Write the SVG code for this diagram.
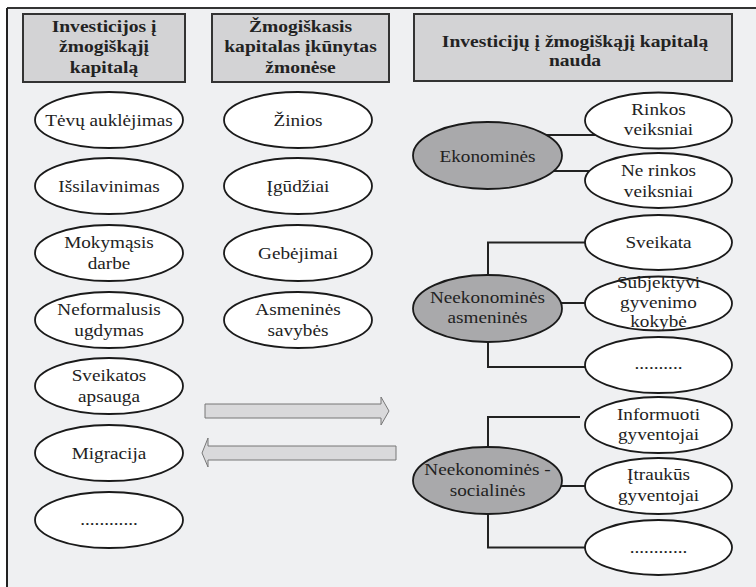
<svg xmlns="http://www.w3.org/2000/svg" width="756" height="587" viewBox="0 0 756 587">
<style>
.hb{fill:#d3d3d5;stroke:#333;stroke-width:2}
.ht{font-family:'Liberation Serif','DejaVu Serif',serif;font-weight:bold;font-size:17px;fill:#222;text-anchor:middle}
.e{fill:#fff;stroke:#1a1a1a;stroke-width:1.8}
.g{fill:#a9a9ab;stroke:#1a1a1a;stroke-width:1.8}
.t{font-family:'Liberation Serif','DejaVu Serif',serif;font-size:16.7px;fill:#222;text-anchor:middle}
.c{fill:none;stroke:#222;stroke-width:2}
.a{fill:#d9d9db;stroke:#777;stroke-width:1}
</style>
<rect x="0" y="0" width="756" height="587" fill="#fff"/>
<rect x="7" y="8" width="749" height="579" fill="#eff0f2"/>
<line x1="7" y1="8" x2="756" y2="8" stroke="#333" stroke-width="2"/>
<line x1="7" y1="8" x2="7" y2="587" stroke="#222" stroke-width="2"/>

<g id="h1"><rect class="hb" x="23" y="14" width="162" height="68"/>
<text class="ht" transform="translate(104 0) scale(1.15 1)"><tspan x="0" y="32">Investicijos į</tspan><tspan x="0" y="52.5">žmogiškąjį</tspan><tspan x="0" y="73">kapitalą</tspan></text></g>
<g id="h2"><rect class="hb" x="212" y="14" width="177" height="68"/>
<text class="ht" transform="translate(300.5 0) scale(1.15 1)"><tspan x="0" y="32">Žmogiškasis</tspan><tspan x="0" y="52.5">kapitalas įkūnytas</tspan><tspan x="0" y="73">žmonėse</tspan></text></g>
<g id="h3"><rect class="hb" x="414" y="14" width="318" height="67"/>
<text class="ht" transform="translate(575 0) scale(1.15 1)"><tspan x="0" y="47">Investicijų į žmogiškąjį kapitalą</tspan><tspan x="0" y="66">nauda</tspan></text></g>

<g id="connectors">
<line class="c" x1="546" y1="135" x2="597" y2="135"/>
<line class="c" x1="553" y1="171" x2="590" y2="171"/>
<polyline class="c" points="488,276 488,242.5 585,242.5"/>
<line class="c" x1="561" y1="303" x2="586" y2="303"/>
<polyline class="c" points="488,341 488,367 585,367"/>
<polyline class="c" points="488,448 488,417 580,417"/>
<line class="c" x1="561" y1="486" x2="586" y2="486"/>
<polyline class="c" points="488,513 488,547.5 585,547.5"/>
</g>

<g id="l1"><ellipse class="e" cx="109" cy="120" rx="74" ry="28"/><text class="t" transform="translate(109 0) scale(1.15 1)" y="126">Tėvų auklėjimas</text></g>
<g id="l2"><ellipse class="e" cx="109" cy="186" rx="74" ry="28"/><text class="t" transform="translate(109 0) scale(1.15 1)" y="192">Išsilavinimas</text></g>
<g id="l3"><ellipse class="e" cx="109" cy="253" rx="74" ry="28"/><text class="t" transform="translate(109 0) scale(1.15 1)"><tspan x="0" y="248">Mokymąsis</tspan><tspan x="0" y="269">darbe</tspan></text></g>
<g id="l4"><ellipse class="e" cx="109" cy="320" rx="74" ry="28"/><text class="t" transform="translate(109 0) scale(1.15 1)"><tspan x="0" y="315">Neformalusis</tspan><tspan x="0" y="336">ugdymas</tspan></text></g>
<g id="l5"><ellipse class="e" cx="109" cy="386" rx="74" ry="28"/><text class="t" transform="translate(109 0) scale(1.15 1)"><tspan x="0" y="381">Sveikatos</tspan><tspan x="0" y="402">apsauga</tspan></text></g>
<g id="l6"><ellipse class="e" cx="109" cy="453" rx="74" ry="28"/><text class="t" transform="translate(109 0) scale(1.15 1)" y="459">Migracija</text></g>
<g id="l7"><ellipse class="e" cx="109" cy="520" rx="74" ry="28"/><text class="t" transform="translate(109 0) scale(1.15 1)" y="525">............</text></g>

<g id="m1"><ellipse class="e" cx="298" cy="120" rx="74" ry="28"/><text class="t" transform="translate(298 0) scale(1.15 1)" y="126">Žinios</text></g>
<g id="m2"><ellipse class="e" cx="298" cy="186" rx="74" ry="28"/><text class="t" transform="translate(298 0) scale(1.15 1)" y="192">Įgūdžiai</text></g>
<g id="m3"><ellipse class="e" cx="298" cy="253" rx="74" ry="28"/><text class="t" transform="translate(298 0) scale(1.15 1)" y="259">Gebėjimai</text></g>
<g id="m4"><ellipse class="e" cx="298" cy="320" rx="74" ry="28"/><text class="t" transform="translate(298 0) scale(1.15 1)"><tspan x="0" y="315">Asmeninės</tspan><tspan x="0" y="336">savybės</tspan></text></g>

<g id="ek"><ellipse class="g" cx="487.5" cy="155.5" rx="74.5" ry="33.5"/><text class="t" transform="translate(487.5 0) scale(1.15 1)" y="162">Ekonominės</text></g>
<g id="na"><ellipse class="g" cx="487.5" cy="308.5" rx="74.5" ry="33.5"/><text class="t" transform="translate(487.5 0) scale(1.15 1)"><tspan x="0" y="303">Neekonominės</tspan><tspan x="0" y="323">asmeninės</tspan></text></g>
<g id="ns"><ellipse class="g" cx="487.5" cy="480.5" rx="74.5" ry="33.5"/><text class="t" transform="translate(487.5 0) scale(1.15 1)"><tspan x="0" y="475">Neekonominės -</tspan><tspan x="0" y="496">socialinės</tspan></text></g>

<g id="r1"><ellipse class="e" cx="658.5" cy="120.5" rx="73.5" ry="28"/><text class="t" transform="translate(658.5 0) scale(1.15 1)"><tspan x="0" y="115">Rinkos</tspan><tspan x="0" y="135">veiksniai</tspan></text></g>
<g id="r2"><ellipse class="e" cx="658.5" cy="180.5" rx="73.5" ry="27.5"/><text class="t" transform="translate(658.5 0) scale(1.15 1)"><tspan x="0" y="176">Ne rinkos</tspan><tspan x="0" y="197">veiksniai</tspan></text></g>
<g id="r3"><ellipse class="e" cx="658.5" cy="242.5" rx="73.5" ry="27.5"/><text class="t" transform="translate(658.5 0) scale(1.15 1)" y="248">Sveikata</text></g>
<g id="r4"><ellipse class="e" cx="658.5" cy="303.5" rx="73.5" ry="27"/><text class="t" transform="translate(658.5 0) scale(1.15 1)"><tspan x="0" y="288">Subjektyvi</tspan><tspan x="0" y="308">gyvenimo</tspan><tspan x="0" y="327">kokybė</tspan></text></g>
<g id="r5"><ellipse class="e" cx="658.5" cy="365" rx="73.5" ry="28"/><text class="t" transform="translate(658.5 0) scale(1.15 1)" y="369">..........</text></g>
<g id="r6"><ellipse class="e" cx="658.5" cy="425" rx="73.5" ry="28"/><text class="t" transform="translate(658.5 0) scale(1.15 1)"><tspan x="0" y="420">Informuoti</tspan><tspan x="0" y="440">gyventojai</tspan></text></g>
<g id="r7"><ellipse class="e" cx="658.5" cy="486" rx="73.5" ry="28"/><text class="t" transform="translate(658.5 0) scale(1.15 1)"><tspan x="0" y="480">Įtraukūs</tspan><tspan x="0" y="501">gyventojai</tspan></text></g>
<g id="r8"><ellipse class="e" cx="658.5" cy="547.5" rx="73.5" ry="27.5"/><text class="t" transform="translate(658.5 0) scale(1.15 1)" y="553">............</text></g>

<g id="arrows">
<polygon class="a" points="205,404 381,404 381,397 389,411 381,425 381,418 205,418"/>
<polygon class="a" points="396,446 208,446 208,438 202,453 208,467 208,460 396,460"/>
</g>
</svg>
